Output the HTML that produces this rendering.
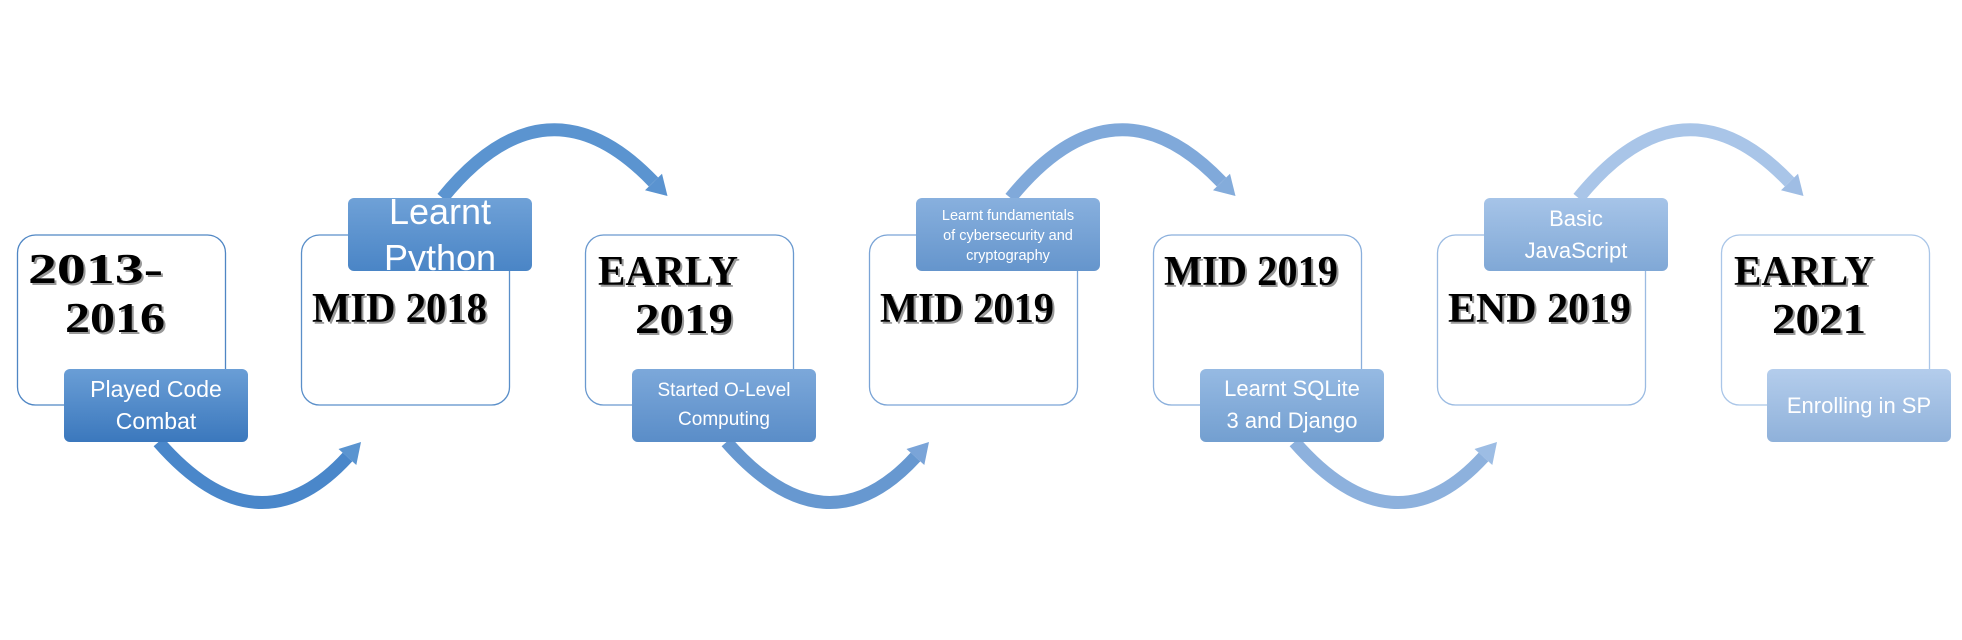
<!DOCTYPE html>
<html><head><meta charset="utf-8"><style>
html,body{margin:0;padding:0;background:#fff;width:1962px;height:640px;overflow:hidden}
svg{display:block}
.b{fill:#fff;stroke-width:1.3}
.t{font-family:"Liberation Serif",serif;font-weight:bold;font-size:42px;fill:#000}
.s{font-family:"Liberation Serif",serif;font-weight:bold;font-size:42px;fill:#999}
.l{font-family:"Liberation Sans",sans-serif;fill:#fff;text-anchor:middle}
</style></head><body>
<svg width="1962" height="640" viewBox="0 0 1962 640" xmlns="http://www.w3.org/2000/svg">
<defs>
<linearGradient id="g1" x1="0" y1="0" x2="0" y2="1"><stop offset="0" stop-color="#6a9ed6"/><stop offset="1" stop-color="#3b78bd"/></linearGradient>
<linearGradient id="g2" x1="0" y1="0" x2="0" y2="1"><stop offset="0" stop-color="#6fa1d7"/><stop offset="1" stop-color="#4a85c6"/></linearGradient>
<linearGradient id="g3" x1="0" y1="0" x2="0" y2="1"><stop offset="0" stop-color="#7ca8da"/><stop offset="1" stop-color="#5a8dc8"/></linearGradient>
<linearGradient id="g4" x1="0" y1="0" x2="0" y2="1"><stop offset="0" stop-color="#88b0de"/><stop offset="1" stop-color="#6595cc"/></linearGradient>
<linearGradient id="g5" x1="0" y1="0" x2="0" y2="1"><stop offset="0" stop-color="#96bae3"/><stop offset="1" stop-color="#739fd0"/></linearGradient>
<linearGradient id="g6" x1="0" y1="0" x2="0" y2="1"><stop offset="0" stop-color="#a6c4e8"/><stop offset="1" stop-color="#80a8d6"/></linearGradient>
<linearGradient id="g7" x1="0" y1="0" x2="0" y2="1"><stop offset="0" stop-color="#b4cdec"/><stop offset="1" stop-color="#8fb1da"/></linearGradient>
</defs>

<rect class="b" stroke="#4f86c4" x="17.5" y="235" width="208" height="170" rx="18"/>
<rect class="b" stroke="#5a8fc9" x="301.5" y="235" width="208" height="170" rx="18"/>
<rect class="b" stroke="#6a99cf" x="585.5" y="235" width="208" height="170" rx="18"/>
<rect class="b" stroke="#7aa4d6" x="869.5" y="235" width="208" height="170" rx="18"/>
<rect class="b" stroke="#8aafdc" x="1153.5" y="235" width="208" height="170" rx="18"/>
<rect class="b" stroke="#9bbbe2" x="1437.5" y="235" width="208" height="170" rx="18"/>
<rect class="b" stroke="#aac6e8" x="1721.5" y="235" width="208" height="170" rx="18"/>

<g fill="none" stroke-width="13">
<path d="M158.5,442 Q257.5,555 347.5,457" stroke="#4a87ca"/>
<path d="M442.5,198 Q546.5,70 653.5,182" stroke="#5b94d0"/>
<path d="M726.5,442 Q825.5,555 915.5,457" stroke="#6798d0"/>
<path d="M1010.5,198 Q1114.5,70 1221.5,182" stroke="#80a9da"/>
<path d="M1294.5,442 Q1393.5,555 1483.5,457" stroke="#8db1dd"/>
<path d="M1578.5,198 Q1682.5,70 1789.5,182" stroke="#a9c5e8"/>
</g>
<g>
<polygon points="361,442 356.3,465 338.5,449" fill="#5a94d0"/>
<polygon points="667.5,196 662,173.7 645,190.3" fill="#5a93d0"/>
<polygon points="929,442 924.3,465 906.5,449" fill="#7aa4d8"/>
<polygon points="1235.5,196 1230,173.7 1213,190.3" fill="#84acdb"/>
<polygon points="1497,442 1492.3,465 1474.5,449" fill="#9dbde4"/>
<polygon points="1803.5,196 1798,173.7 1781,190.3" fill="#9fbde4"/>
</g>

<g>
<text class="s" x="30" y="285" textLength="135" lengthAdjust="spacingAndGlyphs">2013-</text><text class="t" x="28" y="283" textLength="135" lengthAdjust="spacingAndGlyphs">2013-</text>
<text class="s" x="67" y="334" textLength="100" lengthAdjust="spacingAndGlyphs">2016</text><text class="t" x="65" y="332" textLength="100" lengthAdjust="spacingAndGlyphs">2016</text>
<text class="s" x="314" y="324" textLength="175" lengthAdjust="spacingAndGlyphs">MID 2018</text><text class="t" x="312" y="322" textLength="175" lengthAdjust="spacingAndGlyphs">MID 2018</text>
<text class="s" x="600" y="287" textLength="140" lengthAdjust="spacingAndGlyphs">EARLY</text><text class="t" x="598" y="285" textLength="140" lengthAdjust="spacingAndGlyphs">EARLY</text>
<text class="s" x="637" y="335" textLength="98" lengthAdjust="spacingAndGlyphs">2019</text><text class="t" x="635" y="333" textLength="98" lengthAdjust="spacingAndGlyphs">2019</text>
<text class="s" x="882" y="324" textLength="174" lengthAdjust="spacingAndGlyphs">MID 2019</text><text class="t" x="880" y="322" textLength="174" lengthAdjust="spacingAndGlyphs">MID 2019</text>
<text class="s" x="1166" y="287" textLength="174" lengthAdjust="spacingAndGlyphs">MID 2019</text><text class="t" x="1164" y="285" textLength="174" lengthAdjust="spacingAndGlyphs">MID 2019</text>
<text class="s" x="1450" y="324" textLength="183" lengthAdjust="spacingAndGlyphs">END 2019</text><text class="t" x="1448" y="322" textLength="183" lengthAdjust="spacingAndGlyphs">END 2019</text>
<text class="s" x="1736" y="287" textLength="140" lengthAdjust="spacingAndGlyphs">EARLY</text><text class="t" x="1734" y="285" textLength="140" lengthAdjust="spacingAndGlyphs">EARLY</text>
<text class="s" x="1774" y="335" textLength="94" lengthAdjust="spacingAndGlyphs">2021</text><text class="t" x="1772" y="333" textLength="94" lengthAdjust="spacingAndGlyphs">2021</text>
</g>

<rect x="64" y="369" width="184" height="73" rx="6" fill="url(#g1)"/>
<text class="l" x="156" y="397" font-size="23">Played Code</text>
<text class="l" x="156" y="429" font-size="23">Combat</text>

<rect x="348" y="198" width="184" height="73" rx="6" fill="url(#g2)"/>
<svg x="348" y="198" width="184" height="73" overflow="hidden">
<text class="l" x="92" y="26" font-size="36">Learnt</text>
<text class="l" x="92" y="72" font-size="36">Python</text>
</svg>

<rect x="632" y="369" width="184" height="73" rx="6" fill="url(#g3)"/>
<text class="l" x="724" y="396" font-size="19">Started O-Level</text>
<text class="l" x="724" y="425" font-size="19">Computing</text>

<rect x="916" y="198" width="184" height="73" rx="6" fill="url(#g4)"/>
<text class="l" x="1008" y="220" font-size="14.5">Learnt fundamentals</text>
<text class="l" x="1008" y="240" font-size="14.5">of cybersecurity and</text>
<text class="l" x="1008" y="260" font-size="14.5">cryptography</text>

<rect x="1200" y="369" width="184" height="73" rx="6" fill="url(#g5)"/>
<text class="l" x="1292" y="396" font-size="22">Learnt SQLite</text>
<text class="l" x="1292" y="428" font-size="22">3 and Django</text>

<rect x="1484" y="198" width="184" height="73" rx="6" fill="url(#g6)"/>
<text class="l" x="1576" y="226" font-size="22">Basic</text>
<text class="l" x="1576" y="258" font-size="22">JavaScript</text>

<rect x="1767" y="369" width="184" height="73" rx="6" fill="url(#g7)"/>
<text class="l" x="1859" y="413" font-size="22">Enrolling in SP</text>
</svg>
</body></html>
